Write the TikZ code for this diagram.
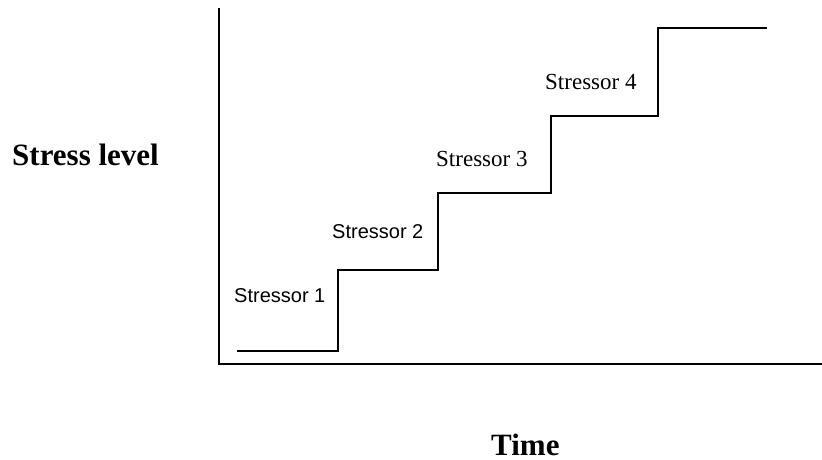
\documentclass[tikz,border=0pt]{standalone}
\usepackage{fontspec}
\setmainfont{Liberation Serif}
\newfontfamily\arialf{Liberation Sans}
\begin{document}
\begin{tikzpicture}[x=1pt,y=-1pt,
  axisline/.style={line width=2pt},
  stepline/.style={line width=2pt},
  sanslabel/.style={anchor=base west,inner sep=0pt,font=\arialf\fontsize{20}{24}\selectfont},
  seriflabel/.style={anchor=base west,inner sep=0pt,font=\fontsize{23}{27}\selectfont},
  titlelabel/.style={anchor=base west,inner sep=0pt,font=\bfseries\fontsize{31}{36}\selectfont}]
\useasboundingbox (0,0) rectangle (822,459);
% axes
\coordinate (ytop) at (219,8);
\coordinate (orig) at (219,364);
\coordinate (xend) at (822,364);
\draw[axisline] (ytop) -- (orig) -- (xend);
% staircase
\coordinate (s0) at (237,351);
\coordinate (s1) at (338,351);
\coordinate (s2) at (338,270);
\coordinate (s3) at (438,270);
\coordinate (s4) at (438,193);
\coordinate (s5) at (551,193);
\coordinate (s6) at (551,116);
\coordinate (s7) at (658,116);
\coordinate (s8) at (658,28);
\coordinate (s9) at (767,28);
\draw[stepline] (s0) -- (s1) -- (s2) -- (s3) -- (s4) -- (s5) -- (s6) -- (s7) -- (s8) -- (s9);
% labels
\node[sanslabel] (l1) at (234,302) {Stressor 1};
\node[sanslabel] (l2) at (332,238) {Stressor 2};
\node[seriflabel] (l3) at (436,166) {Stressor 3};
\node[seriflabel] (l4) at (545,89) {Stressor 4};
\node[titlelabel] (ylab) at (12,165) {Stress level};
\node[titlelabel] (xlab) at (491,455) {Time};
\end{tikzpicture}
\end{document}
